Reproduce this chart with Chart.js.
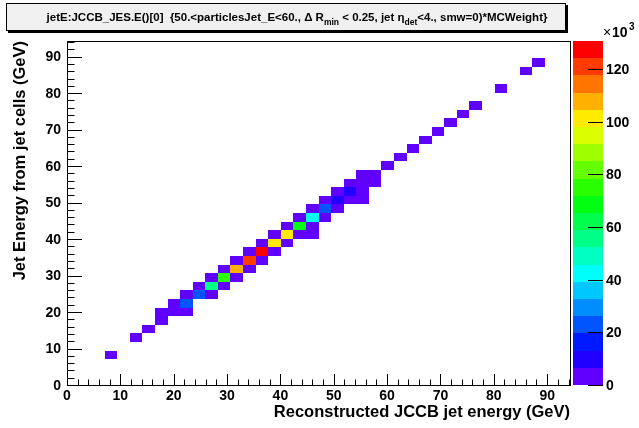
<!DOCTYPE html>
<html>
<head>
<meta charset="utf-8">
<script src="https://cdn.jsdelivr.net/npm/chart.js@4.4.0/dist/chart.umd.min.js"></script>
<style>
  html, body { margin: 0; padding: 0; background: #fff; }
</style>
</head>
<body>
<canvas id="chart" width="639" height="428"></canvas>
<script>
// histogram binning (both axes share the same binning)
const AXIS_MAX = 94.28;
const N_BINS = 40;
const BIN_W = AXIS_MAX / N_BINS;
const Z_MAX = 130700;

// filled bins: x bin index, y bin index, content
const binX = [3, 5, 6, 7, 7, 8, 9, 8, 9, 9, 10, 11, 10, 11, 12, 11, 12, 13, 12, 13, 14, 13, 14, 15, 14, 15, 16,
  15, 16, 17, 16, 17, 18, 19, 17, 18, 19, 18, 19, 20, 19, 20, 21, 20, 21, 22, 23, 21, 22, 23, 22, 23, 24, 23, 24,
  25, 26, 27, 28, 29, 30, 31, 32, 34, 36, 37];
const binY = [3, 5, 6, 7, 8, 8, 8, 9, 9, 10, 10, 10, 11, 11, 11, 12, 12, 12, 13, 13, 13, 14, 14, 14, 15, 15, 15,
  16, 16, 16, 17, 17, 17, 17, 18, 18, 18, 19, 19, 19, 20, 20, 20, 21, 21, 21, 21, 22, 22, 22, 23, 23, 23, 24, 24,
  25, 26, 27, 28, 29, 30, 31, 32, 34, 36, 37];
const counts = [2000, 2500, 3000, 3000, 2500, 4000, 1500, 5000, 22000, 4500, 24000, 3000, 5000, 57000, 4000, 5500,
  75000, 5000, 5500, 107000, 5000, 5000, 120000, 5500, 4500, 128000, 5000, 5000, 101000, 5000, 5000, 99000, 4000,
  2000, 5000, 68000, 5000, 5500, 42000, 5000, 5000, 22000, 4000, 5000, 9000, 4000, 2000, 4500, 9500, 3000, 3500,
  4000, 2000, 2500, 3000, 2500, 2000, 2000, 1500, 1500, 1500, 1000, 1000, 800, 700, 600];

const xTicks = [0, 10, 20, 30, 40, 50, 60, 70, 80, 90];
const yTicks = [0, 10, 20, 30, 40, 50, 60, 70, 80, 90];
const zTicks = [0, 20000, 40000, 60000, 80000, 100000, 120000];

// ROOT-like rainbow palette, 20 contour levels
const palette = ['#6000ff', '#2200ff', '#001aff', '#0055ff', '#008eff', '#00c8ff', '#00fffb', '#00ffc1',
  '#00ff87', '#00ff4c', '#00ff11', '#29ff00', '#64ff00', '#9fff00', '#d9ff00', '#ffeb00', '#ffb000',
  '#ff7500', '#ff3b00', '#ff0000'];

const FONT = '"Liberation Sans", Arial, Helvetica, sans-serif';

const cells = binX.map((ix, k) => ({
  x: (ix + 0.5) * BIN_W,
  y: (binY[k] + 0.5) * BIN_W,
  v: counts[k]
}));

const th2Plugin = {
  id: 'th2',
  beforeDatasetsDraw(chart) {
    const ctx = chart.ctx;
    const xs = chart.scales.x, ys = chart.scales.y;
    ctx.save();
    chart.data.datasets[0].data.forEach(p => {
      const x0 = Math.round(xs.getPixelForValue(p.x - BIN_W / 2));
      const x1 = Math.round(xs.getPixelForValue(p.x + BIN_W / 2));
      const y0 = Math.round(ys.getPixelForValue(p.y + BIN_W / 2));
      const y1 = Math.round(ys.getPixelForValue(p.y - BIN_W / 2));
      const band = Math.min(palette.length - 1, Math.floor(p.v / Z_MAX * palette.length));
      ctx.fillStyle = palette[band];
      ctx.fillRect(x0, y0, x1 - x0, y1 - y0);
    });
    ctx.restore();
  },
  afterDraw(chart) {
    const ctx = chart.ctx;
    const a = chart.chartArea;
    const xs = chart.scales.x, ys = chart.scales.y, zs = chart.scales.z;
    ctx.save();

    // frame
    ctx.strokeStyle = '#000';
    ctx.lineWidth = 1;
    ctx.strokeRect(Math.round(a.left) + 0.5, Math.round(a.top) + 0.5,
      Math.round(a.right - a.left), Math.round(a.bottom - a.top));

    // ticks (inside), major every 10, minor every 2
    ctx.beginPath();
    for (let v = 0; v <= AXIS_MAX; v += 2) {
      const major = v % 10 === 0;
      const px = Math.round(xs.getPixelForValue(v)) + 0.5;
      ctx.moveTo(px, a.bottom);
      ctx.lineTo(px, a.bottom - (major ? 11 : 5.5));
      const py = Math.round(ys.getPixelForValue(v)) + 0.5;
      ctx.moveTo(a.left, py);
      ctx.lineTo(a.left + (major ? 15 : 7.5), py);
    }
    ctx.stroke();

    // tick labels
    ctx.fillStyle = '#000';
    ctx.font = 'bold 14px ' + FONT;
    ctx.textAlign = 'center';
    ctx.textBaseline = 'middle';
    xTicks.forEach(v => ctx.fillText(String(v), xs.getPixelForValue(v), a.bottom + 11));
    ctx.textAlign = 'right';
    yTicks.forEach(v => ctx.fillText(String(v), a.left - 6, ys.getPixelForValue(v) + 1));

    // axis titles
    ctx.font = 'bold 16.5px ' + FONT;
    ctx.textAlign = 'right';
    ctx.textBaseline = 'alphabetic';
    ctx.fillText('Reconstructed JCCB jet energy (GeV)', a.right, a.bottom + 32);
    ctx.save();
    ctx.translate(25, a.top);
    ctx.rotate(-Math.PI / 2);
    ctx.fillText('Jet Energy from jet cells (GeV)', 0, 0);
    ctx.restore();

    // colour bar
    const cbL = a.right + 3, cbR = a.right + 33;
    const nb = palette.length;
    for (let b = 0; b < nb; b++) {
      const yTop = Math.round(zs.getPixelForValue((b + 1) * Z_MAX / nb));
      const yBot = Math.round(zs.getPixelForValue(b * Z_MAX / nb));
      ctx.fillStyle = palette[b];
      ctx.fillRect(cbL, yTop, cbR - cbL, yBot - yTop);
    }
    ctx.beginPath();
    zTicks.forEach(v => {
      const py = Math.round(zs.getPixelForValue(v)) + 0.5;
      ctx.moveTo(cbR - 15, py);
      ctx.lineTo(cbR, py);
    });
    ctx.strokeStyle = '#000';
    ctx.stroke();
    ctx.fillStyle = '#000';
    ctx.font = 'bold 14px ' + FONT;
    ctx.textAlign = 'left';
    ctx.textBaseline = 'middle';
    zTicks.forEach(v => ctx.fillText(String(v / 1000), cbR + 3, zs.getPixelForValue(v) + 1));
    ctx.font = '14px ' + FONT;
    ctx.fillText('\u00d7', cbR, a.top - 8);
    ctx.font = 'bold 14px ' + FONT;
    ctx.fillText('10', cbR + 9, a.top - 8);
    ctx.font = 'bold 10px ' + FONT;
    ctx.fillText('3', cbR + 26, a.top - 14);

    // title box with shadow
    const bx = 6, by = 3, bw = 560, bh = 28;
    ctx.fillStyle = '#000';
    ctx.fillRect(bx + 2, by + 2, bw, bh);
    ctx.fillStyle = '#f0f0f0';
    ctx.fillRect(bx, by, bw, bh);
    ctx.strokeStyle = '#000';
    ctx.strokeRect(bx + 0.5, by + 0.5, bw - 1, bh - 1);

    // title text with subscripts
    const parts = [
      ['jetE:JCCB_JES.E()[0]  {50.<particlesJet_E<60., \u0394 R', false],
      ['min', true],
      [' < 0.25, jet \u03b7', false],
      ['det', true],
      ['<4., smw=0)*MCWeight}', false]
    ];
    const mainFont = 'bold 11.5px ' + FONT, subFont = 'bold 8.5px ' + FONT;
    let total = 0;
    parts.forEach(([t, sub]) => { ctx.font = sub ? subFont : mainFont; total += ctx.measureText(t).width; });
    let tx = bx + bw / 2 - total / 2 + 11;
    const base = by + bh / 2 + 4;
    ctx.textAlign = 'left';
    ctx.textBaseline = 'alphabetic';
    ctx.fillStyle = '#000';
    parts.forEach(([t, sub]) => {
      ctx.font = sub ? subFont : mainFont;
      ctx.fillText(t, tx, sub ? base + 4 : base);
      tx += ctx.measureText(t).width;
    });

    ctx.restore();
  }
};

new Chart(document.getElementById('chart'), {
  type: 'scatter',
  data: {
    datasets: [{
      data: cells,
      pointRadius: 0,
      pointHoverRadius: 0,
      backgroundColor: 'rgba(0,0,0,0)'
    }]
  },
  options: {
    responsive: false,
    animation: false,
    devicePixelRatio: 1,
    events: [],
    layout: { padding: { left: 67, right: 69, top: 41, bottom: 43 } },
    plugins: { legend: { display: false }, tooltip: { enabled: false } },
    scales: {
      x: { type: 'linear', min: 0, max: AXIS_MAX, display: false },
      y: { type: 'linear', min: 0, max: AXIS_MAX, display: false },
      z: { type: 'linear', axis: 'y', position: 'right', min: 0, max: Z_MAX, display: false }
    }
  },
  plugins: [th2Plugin]
});
</script>
</body>
</html>
